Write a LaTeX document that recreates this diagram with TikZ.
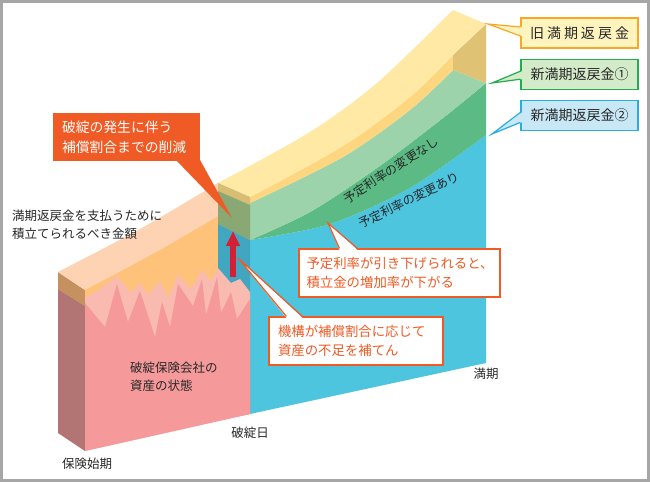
\documentclass[tikz,border=0pt]{standalone}
\usepackage{fontspec}
\setmainfont{Noto Sans CJK JP}
\usetikzlibrary{arrows.meta,positioning,calc}
\definecolor{FRAME-GRAY}{RGB}{166, 166, 166}
\definecolor{PEACH}{RGB}{253, 211, 180}
\definecolor{FRONT-ORANGE}{RGB}{255, 194, 122}
\definecolor{SIDE-TAN}{RGB}{197, 146, 95}
\definecolor{SIDE-PINK}{RGB}{179, 117, 116}
\definecolor{ASSET-PINK}{RGB}{245, 153, 154}
\definecolor{SPIKE-PINK}{RGB}{249, 186, 176}
\definecolor{TOP-YELLOW}{RGB}{255, 233, 165}
\definecolor{STRIP-ORANGE}{RGB}{255, 214, 128}
\definecolor{END-TAN}{RGB}{224, 194, 116}
\definecolor{LIGHT-GREEN}{RGB}{157, 211, 170}
\definecolor{DARK-GREEN}{RGB}{92, 187, 132}
\definecolor{FACE-BLUE}{RGB}{77, 197, 223}
\definecolor{CUT-TEAL}{RGB}{66, 166, 193}
\definecolor{CUT-OLIVE}{RGB}{137, 168, 116}
\definecolor{CUT-TAN}{RGB}{215, 190, 115}
\definecolor{ARROW-RED}{RGB}{213, 31, 53}
\definecolor{CALL-ORANGE}{RGB}{240, 90, 36}
\definecolor{OLD-LINE}{RGB}{247, 168, 38}
\definecolor{OLD-FILL}{RGB}{255, 243, 190}
\definecolor{NEW1-LINE}{RGB}{34, 172, 79}
\definecolor{NEW1-FILL}{RGB}{211, 235, 200}
\definecolor{NEW2-LINE}{RGB}{42, 172, 226}
\definecolor{NEW2-FILL}{RGB}{200, 232, 246}
\definecolor{TEXT-DARK}{RGB}{40, 40, 40}

\begin{document}
\begin{tikzpicture}[x=1pt, y=-1pt,
    axis label/.style={font=\fontsize{12.5pt}{18pt}\selectfont, text=TEXT-DARK, inner sep=0pt},
    band label/.style={font=\fontsize{12.3pt}{14pt}\selectfont, text=TEXT-DARK, inner sep=0pt},
    callout/.style={draw=CALL-ORANGE, line width=1.2pt, fill=white, text=CALL-ORANGE,
      font=\fontsize{13.4pt}{19.5pt}\selectfont, align=left, minimum height=48pt, inner ysep=0pt},
    tag/.style={line width=1.2pt, minimum width=117pt, minimum height=30pt, inner sep=0pt,
      text=TEXT-DARK, font=\fontsize{14pt}{16pt}\selectfont}]
  \useasboundingbox (0,0) rectangle (650,482);
  \fill[white] (0,0) rectangle (650,482);
  \draw[FRAME-GRAY, line width=3pt] (1.5,1.5) rectangle (648.5,480.5);

  % Left end of the block
  \fill[SIDE-TAN] (58,272) -- (85,290) -- (85,306) -- (58,289) -- cycle;
  \fill[SIDE-PINK] (58,289) -- (85,306) -- (85,451) -- (58,433) -- cycle;

  % Top face before the failure date
  \fill[PEACH] plot[smooth] coordinates {(58,272) (140,229) (218,183)} -- (250,197)
    -- plot[smooth] coordinates {(250,197) (165,247) (85,290)} -- cycle;
  \fill[FRONT-ORANGE] plot[smooth] coordinates {(85,290) (165,247) (250,197)}
    -- (250,300) -- (85,310) -- cycle;

  % Front face after the failure date
  \fill[FACE-BLUE] plot[smooth] coordinates {(250,240) (330,224) (410,188) (486,135)}
    -- (486,363) -- (250,414) -- cycle;
  \fill[DARK-GREEN] plot[smooth] coordinates {(250,240) (310,212) (377,168) (443,118) (486,83)}
    -- (486,135) -- plot[smooth] coordinates {(486,135) (410,188) (330,224) (250,240)} -- cycle;
  \fill[LIGHT-GREEN] plot[smooth] coordinates {(250,203) (343,157) (410,110) (453,70)}
    -- (486,83) -- plot[smooth] coordinates {(486,83) (443,118) (377,168) (310,212) (250,240)} -- cycle;
  \fill[STRIP-ORANGE] plot[smooth] coordinates {(250,197) (343,146) (410,97) (453,55)}
    -- (453,70) -- plot[smooth] coordinates {(453,70) (410,110) (343,157) (250,203)} -- cycle;
  \fill[END-TAN] (453,55) -- (486,24) -- (486,83) -- (453,70) -- cycle;
  \fill[TOP-YELLOW] plot[smooth] coordinates {(218,183) (310,132) (377,83) (453,10)} -- (486,24)
    -- plot[smooth] coordinates {(486,24) (453,55) (410,97) (343,146) (250,197)} -- cycle;

  % Cut at the failure date
  \fill[CUT-TAN] (218,183) -- (250,197) -- (250,205) -- (218,191) -- cycle;
  \fill[CUT-OLIVE] (218,191) -- (250,205) -- (250,240) -- (218,224) -- cycle;
  \fill[CUT-TEAL] (218,224) -- (250,240) -- (250,414) -- (218,420) -- cycle;

  % Cover by the fund
  \coordinate (arrowbase) at (233,277);
  \coordinate (arrowtip) at (233,231);
  \draw[-{Triangle[width=13pt,length=15pt]}, ARROW-RED, line width=6pt] (arrowbase) -- (arrowtip);

  % Assets of the failed insurer
  \fill[SPIKE-PINK] (85,297) -- (96,292) -- (117,276) -- (131,293) -- (140,283) -- (148,295)
    -- (160,281) -- (168,298) -- (178,275) -- (191,289) -- (202,270) -- (211,281) -- (218,268)
    -- (231,283) -- (240,279) -- (250,292) -- (250,414) -- (85,451) -- cycle;
  \fill[ASSET-PINK] (85,303) -- (105,327) -- (117,284) -- (128,322) -- (140,291) -- (155,337)
    -- (162,302) -- (170,327) -- (178,284) -- (193,306) -- (202,279) -- (206,315) -- (217,277)
    -- (221,313) -- (231,292) -- (237,319) -- (250,299) -- (250,414) -- (85,451) -- cycle;

  % Texts on the block
  \node[axis label, anchor=west, align=left] (target) at (12,225) {満期返戻金を支払うために\\積立てられるべき金額};
  \node[axis label, anchor=west, align=left] (assets) at (130,377) {破綻保険会社の\\資産の状態};
  \node[axis label] (faildate) at (250,433) {破綻日};
  \node[axis label] (start) at (87,464) {保険始期};
  \node[axis label] (maturity) at (486,374) {満期};
  \node[band label, rotate=33] (norate) at (391,170) {予定利率の変更なし};
  \node[band label, rotate=26] (withrate) at (409,200) {予定利率の変更あり};

  % Reduction callout
  \node[fill=CALL-ORANGE, text=white, font=\fontsize{13.8pt}{20pt}\selectfont, align=left,
    text width=129pt, minimum width=147pt, minimum height=48pt, inner sep=0pt] (lossbox)
    at (126.5,137) {破綻の発生に伴う\\補償割合までの削減};
  \coordinate (losstip) at (232,218);
  \fill[CALL-ORANGE] ($(lossbox.south east)+(-24,-1)$) -- (losstip) -- ($(lossbox.south east)+(0,-1)$) -- cycle;

  % Rate callout
  \node[callout, text width=186pt, minimum width=201pt] (ratebox) at (399.5,273)
    {予定利率が引き下げられると、\\積立金の増加率が下がる};
  \coordinate (ratetip) at (328,223);
  \fill[white] ($(ratebox.north west)+(41,1.5)$) -- (ratetip) -- ($(ratebox.north west)+(59,1.5)$) -- cycle;
  \draw[CALL-ORANGE, line width=1.2pt] ($(ratebox.north west)+(41,0)$) -- (ratetip) -- ($(ratebox.north west)+(59,0)$);

  % Fund callout
  \node[callout, text width=156pt, minimum width=174pt] (fundbox) at (356,341)
    {機構が補償割合に応じて\\資産の不足を補てん};
  \coordinate (fundtip) at (238,258);
  \fill[white] ($(fundbox.north west)+(18,1.5)$) -- (fundtip) -- ($(fundbox.north west)+(34,1.5)$) -- cycle;
  \draw[CALL-ORANGE, line width=1.2pt] ($(fundbox.north west)+(18,0)$) -- (fundtip) -- ($(fundbox.north west)+(34,0)$);

  % Refund tags
  \node[tag, draw=OLD-LINE, fill=OLD-FILL] (oldbox) at (579.5,33)
    {旧\hspace{3pt}満\hspace{3pt}期\hspace{3pt}返\hspace{3pt}戻\hspace{3pt}金};
  \node[tag, draw=NEW1-LINE, fill=NEW1-FILL, below=10pt of oldbox] (newbox1) {新満期返戻金①};
  \node[tag, draw=NEW2-LINE, fill=NEW2-FILL, below=10pt of newbox1] (newbox2) {新満期返戻金②};
  \coordinate (oldtip) at (488,24);
  \coordinate (newtip1) at (492,83);
  \coordinate (newtip2) at (492,134);
  \fill[OLD-FILL] ($(oldbox.west)+(1.5,-6)$) -- (oldtip) -- ($(oldbox.west)+(1.5,3)$) -- cycle;
  \draw[OLD-LINE, line width=1.2pt] ($(oldbox.west)+(0,-6)$) -- (oldtip) -- ($(oldbox.west)+(0,3)$);
  \fill[NEW1-FILL] ($(newbox1.west)+(1.5,-3)$) -- (newtip1) -- ($(newbox1.west)+(1.5,5)$) -- cycle;
  \draw[NEW1-LINE, line width=1.2pt] ($(newbox1.west)+(0,-3)$) -- (newtip1) -- ($(newbox1.west)+(0,5)$);
  \fill[NEW2-FILL] ($(newbox2.west)+(1.5,-3)$) -- (newtip2) -- ($(newbox2.west)+(1.5,7)$) -- cycle;
  \draw[NEW2-LINE, line width=1.2pt] ($(newbox2.west)+(0,-3)$) -- (newtip2) -- ($(newbox2.west)+(0,7)$);
\end{tikzpicture}
\end{document}
